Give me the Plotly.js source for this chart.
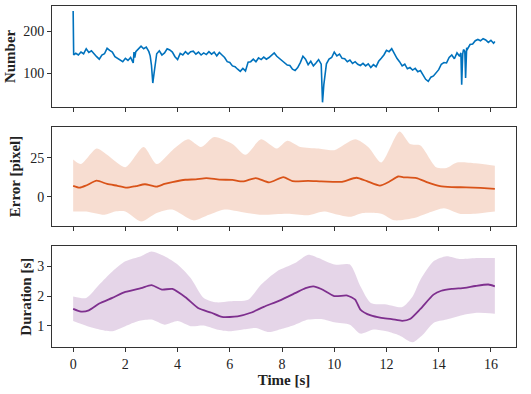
<!DOCTYPE html>
<html>
<head>
<meta charset="utf-8">
<script src="https://cdn.plot.ly/plotly-3.0.1.min.js"></script>
<style>
  body { margin: 0; background: #fff; }
  #myPlot { width: 531px; height: 394px; }
</style>
</head>
<body>
<div id="myPlot"></div>
<script>
// number of tracked points over time
var tNum = [0, 0.02, 0.1, 0.2, 0.3, 0.4, 0.5, 0.6, 0.7, 0.8, 0.9, 1.0, 1.1, 1.2, 1.3, 1.4, 1.5, 1.6, 1.7, 1.8, 1.9,
    2.0, 2.1, 2.2, 2.3, 2.33, 2.36, 2.4, 2.5, 2.6, 2.7, 2.8, 2.9, 2.95, 3.0, 3.05, 3.1, 3.15, 3.2, 3.3, 3.4, 3.5, 3.6, 3.7, 3.8, 3.9,
    4.0, 4.1, 4.2, 4.3, 4.4, 4.5, 4.6, 4.7, 4.8, 4.9, 5.0, 5.1, 5.2, 5.3, 5.4, 5.5, 5.6, 5.7, 5.8, 5.9,
    6.0, 6.1, 6.2, 6.3, 6.4, 6.5, 6.6, 6.7, 6.8, 6.9, 7.0, 7.1, 7.2, 7.3, 7.4, 7.5, 7.6, 7.7, 7.8, 7.9,
    8.0, 8.1, 8.2, 8.3, 8.4, 8.5, 8.6, 8.7, 8.8, 8.9, 9.0, 9.1, 9.2, 9.3, 9.4, 9.5, 9.55, 9.6, 9.65, 9.7, 9.8, 9.9,
    10.0, 10.1, 10.2, 10.3, 10.4, 10.5, 10.6, 10.7, 10.8, 10.9, 11.0, 11.1, 11.2, 11.3, 11.4, 11.5, 11.6, 11.7, 11.8, 11.9,
    12.0, 12.1, 12.2, 12.3, 12.4, 12.5, 12.6, 12.7, 12.8, 12.9, 13.0, 13.1, 13.2, 13.3, 13.4, 13.5, 13.6, 13.7, 13.8, 13.9,
    14.0, 14.1, 14.2, 14.3, 14.4, 14.5, 14.6, 14.7, 14.8, 14.85, 14.88, 14.92, 14.95, 15.0, 15.03, 15.07, 15.1, 15.2, 15.3, 15.4,
    15.5, 15.6, 15.7, 15.8, 15.9, 16.0, 16.1, 16.15]
var number = [248, 143, 147, 143, 150, 146, 158, 149, 153, 145, 139, 133, 143, 146, 159, 154, 150, 139, 135, 129, 127,
    135, 130, 137, 124, 150, 137, 151, 157, 164, 158, 162, 151, 141, 118, 76, 100, 131, 146, 153, 143, 148, 158, 155, 150, 139,
    132, 147, 143, 151, 145, 151, 152, 145, 150, 143, 148, 144, 151, 145, 150, 141, 149, 143, 137, 127,
    125, 117, 115, 109, 104, 111, 105, 126, 127, 133, 127, 136, 132, 138, 133, 137, 143, 148, 140, 135,
    129, 126, 119, 118, 109, 106, 113, 125, 140, 133, 120, 128, 117, 124, 132, 121, 30, 72, 98, 122, 133, 137,
    150, 141, 145, 135, 134, 127, 131, 123, 127, 121, 118, 123, 117, 122, 113, 120, 115, 128, 135, 143,
    154, 151, 158, 146, 135, 127, 117, 121, 110, 113, 107, 111, 103, 106, 95, 85, 80, 90, 93, 101,
    108, 121, 125, 124, 137, 143, 134, 148, 140, 148, 72, 146, 156, 152, 88, 160, 157, 168, 169, 177,
    180, 177, 182, 179, 173, 178, 171, 175]

// tracking error, mean and band
var tErr = [0, 0.25, 0.5, 0.9, 1.3, 1.7, 2.05, 2.4, 2.75, 3.2, 3.5, 3.8, 4.3, 4.7, 5.1, 5.6, 6.1, 6.5, 7.0, 7.5,
    8.05, 8.4, 9.0, 9.5, 9.95, 10.3, 10.85, 11.25, 11.75, 12.1, 12.45, 12.65, 13.15, 13.6, 14.05, 14.5, 15.05, 15.6, 16.15]
var errMean = [7.0, 5.8, 7.2, 10.3, 8.2, 7.0, 5.8, 6.8, 8.0, 6.5, 8.2, 9.4, 10.9, 11.2, 12.0, 11.0, 10.8, 9.8, 12.0, 9.2,
    12.6, 10.0, 10.2, 9.8, 9.6, 9.6, 12.2, 10.0, 7.1, 9.6, 13.0, 12.5, 12.0, 9.0, 6.8, 6.2, 6.0, 5.6, 5.0]
var tErrUp = [0, 0.3, 0.9, 1.3, 2.0, 2.7, 3.2, 3.8, 4.4, 4.9, 5.4, 6.1, 6.6, 7.2, 7.8, 8.2, 8.7, 9.4, 10.0, 10.8,
    11.3, 11.8, 12.5, 12.9, 13.3, 13.9, 14.3, 14.7, 15.4, 16.15]
var errUp = [24, 21, 31, 27, 19, 32, 21, 30, 37, 32, 38.5, 34, 27, 37, 31, 36, 32, 31, 30, 37,
    32, 22, 42, 34, 33, 19, 18.5, 22, 21.5, 20]
var tErrLo = [0, 0.5, 1.2, 1.6, 2.0, 2.6, 3.2, 3.8, 4.6, 5.2, 5.8, 6.5, 7.2, 8.2, 9.0, 9.6, 10.1, 10.6, 11.1, 11.8,
    12.3, 13.0, 13.6, 14.2, 14.8, 15.4, 16.15]
var errLo = [-9.6, -9.6, -11.7, -9.6, -9.6, -16, -10.5, -8.3, -15.3, -11.7, -8.3, -10, -11.7, -11, -12, -9.6, -11.5, -13, -10.5, -11,
    -15.3, -14, -10.5, -7.5, -11, -11, -9.6]

// tracking duration, mean and band
var tDur = [0, 0.3, 0.6, 1.0, 1.5, 2.0, 2.6, 3.0, 3.4, 3.8, 4.3, 4.8, 5.3, 5.7, 6.3, 6.8, 7.3, 7.9, 8.5, 8.9,
    9.2, 9.5, 10.0, 10.5, 10.8, 11.0, 11.4, 11.8, 12.2, 12.6, 12.9, 13.3, 13.8, 14.1, 14.5, 15.0, 15.4, 15.9, 16.15]
var durMean = [1.57, 1.48, 1.52, 1.75, 1.94, 2.14, 2.27, 2.37, 2.22, 2.24, 1.96, 1.59, 1.44, 1.30, 1.32, 1.44, 1.64, 1.85, 2.10, 2.27,
    2.33, 2.24, 2.00, 2.02, 1.88, 1.55, 1.35, 1.27, 1.23, 1.17, 1.23, 1.57, 2.05, 2.18, 2.24, 2.28, 2.34, 2.39, 2.33]
var tDurUp = [0, 0.5, 1.0, 1.5, 2.0, 2.6, 3.0, 3.5, 4.0, 4.5, 5.0, 5.5, 6.0, 6.7, 7.2, 7.8, 8.5, 9.0, 9.4, 10.0,
    10.6, 11.0, 11.4, 12.0, 12.6, 13.0, 13.3, 13.8, 14.3, 14.8, 15.5, 16.15]
var durUp = [1.99, 1.94, 2.39, 2.83, 3.17, 3.34, 3.50, 3.34, 3.06, 2.61, 1.94, 1.79, 1.83, 1.88, 2.39, 2.83, 3.11, 3.39, 3.28, 3.06,
    3.06, 2.33, 1.77, 1.72, 1.63, 1.99, 2.55, 3.17, 3.34, 3.25, 3.28, 3.28]
var tDurLo = [0, 0.5, 1.0, 1.5, 2.0, 2.5, 3.0, 3.5, 4.0, 4.5, 5.0, 5.5, 6.0, 6.5, 7.0, 7.5, 8.0, 8.5, 9.0, 9.5,
    10.0, 10.6, 11.0, 11.5, 12.0, 12.5, 13.0, 13.4, 13.8, 14.3, 15.0, 15.5, 16.15]
var durLo = [1.16, 1.00, 0.88, 0.82, 0.99, 1.16, 1.21, 1.04, 1.16, 0.99, 1.01, 0.88, 0.82, 0.88, 0.93, 0.79, 0.90, 1.04, 1.21, 1.23,
    1.12, 1.04, 0.74, 0.88, 0.82, 0.68, 0.45, 0.71, 1.10, 1.21, 1.38, 1.44, 1.41]

var xTicks = [0, 2, 4, 6, 8, 10, 12, 14, 16]

var blue = "#0072BD"
var orange = "#D95319"
var purple = "#7E2F8E"
var frameCol = "#333333"
var font = "'Liberation Serif', 'Times New Roman', serif"

var band = function (xLo, yLo, xUp, yUp, ax, col) {
    return [{
        x: xLo, y: yLo, xaxis: "x" + ax, yaxis: "y" + ax,
        mode: "lines", type: "scatter",
        line: {width: 0, shape: "spline", smoothing: 0.7},
        hoverinfo: "skip", showlegend: false
    }, {
        x: xUp, y: yUp, xaxis: "x" + ax, yaxis: "y" + ax,
        mode: "lines", type: "scatter", fill: "tonexty", fillcolor: col,
        line: {width: 0, shape: "spline", smoothing: 0.7},
        hoverinfo: "skip", showlegend: false
    }]
}

var data = [{
    x: tNum, y: number, xaxis: "x", yaxis: "y",
    mode: "lines", type: "scatter",
    line: {color: blue, width: 1.6},
    showlegend: false
}]
data = data.concat(band(tErrLo, errLo, tErrUp, errUp, "2", "rgba(217,83,25,0.2)"))
data.push({
    x: tErr, y: errMean, xaxis: "x2", yaxis: "y2",
    mode: "lines", type: "scatter",
    line: {color: orange, width: 1.8, shape: "spline", smoothing: 0.6},
    showlegend: false
})
data = data.concat(band(tDurLo, durLo, tDurUp, durUp, "3", "rgba(126,47,142,0.2)"))
data.push({
    x: tDur, y: durMean, xaxis: "x3", yaxis: "y3",
    mode: "lines", type: "scatter",
    line: {color: purple, width: 1.8, shape: "spline", smoothing: 0.6},
    showlegend: false
})

var xAxis = function (dom, labels) {
    var a = {
        domain: [0, 1], anchor: dom, range: [-0.81, 16.96],
        tickvals: xTicks, ticktext: xTicks.map(String),
        showticklabels: labels, ticks: "outside", ticklen: 4, tickwidth: 1, tickcolor: frameCol,
        showline: true, mirror: true, linecolor: frameCol, linewidth: 1,
        showgrid: false, zeroline: false,
        tickfont: {family: font, size: 14, color: "#222"}
    }
    if (labels) {
        a.title = {text: "<b>Time [s]</b>", standoff: 2, font: {family: font, size: 15, color: "#222"}}
    }
    return a
}

var yAxis = function (anc, dom, range, ticks, title, gap) {
    return {
        domain: dom, anchor: anc, range: range,
        tickvals: ticks, ticktext: ticks.map(String),
        ticks: "outside", ticklen: 4, tickwidth: 1, tickcolor: frameCol,
        showline: true, mirror: true, linecolor: frameCol, linewidth: 1,
        showgrid: false, zeroline: false,
        tickfont: {family: font, size: 14, color: "#222"},
        title: {text: "<b>" + title + "</b>", standoff: gap, font: {family: font, size: 15, color: "#222"}}
    }
}

var layout = {
    width: 531, height: 394,
    margin: {l: 52, r: 15, t: 6, b: 47},
    paper_bgcolor: "#fff", plot_bgcolor: "#fff",
    xaxis: xAxis("y", false),
    xaxis2: xAxis("y2", false),
    xaxis3: xAxis("y3", true),
    yaxis: yAxis("x", [0.704, 1], [19, 260], [100, 200], "Number", 3),
    yaxis2: yAxis("x2", [0.355, 0.645], [-18.9, 44.9], [0, 25], "Error [pixel]", 5),
    yaxis3: yAxis("x3", [0, 0.295], [0.29, 3.67], [1, 2, 3], "Duration [s]", 1)
}

Plotly.newPlot("myPlot", data, layout, {displayModeBar: false, staticPlot: true})
</script>
</body>
</html>
